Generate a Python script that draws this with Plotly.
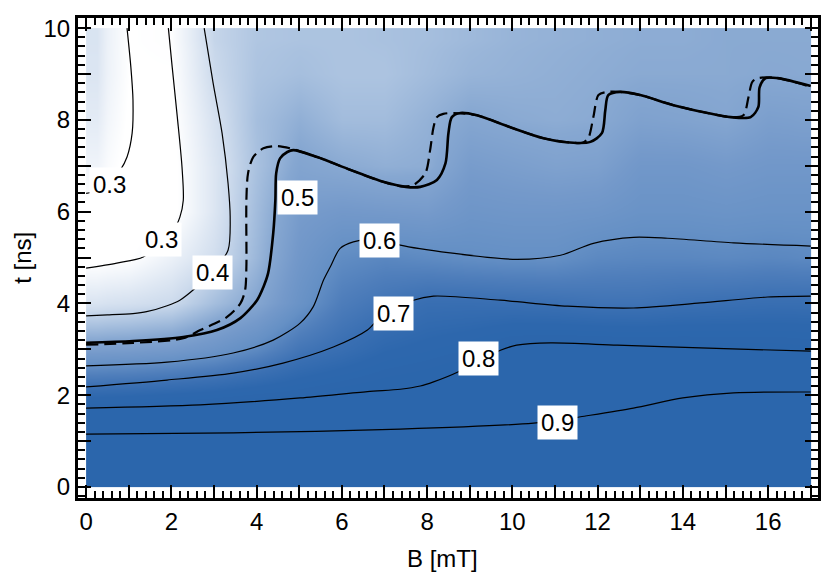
import plotly.graph_objects as go

FONT = "Liberation Sans, Arial, Helvetica, sans-serif"

# background field, sampled on a 1 mT x 1 ns grid (rows: t = 0..10)
B_GRID = list(range(18))
T_GRID = list(range(11))
Z_ROWS = [
    [1.0] * 18,
    [0.92, 0.92, 0.925, 0.925, 0.93, 0.93, 0.93, 0.935, 0.94, 0.94, 0.95, 0.96, 0.96, 0.965, 0.97, 0.97, 0.97, 0.97],
    [0.74, 0.745, 0.755, 0.765, 0.78, 0.79, 0.805, 0.815, 0.825, 0.85, 0.86, 0.87, 0.88, 0.89, 0.895, 0.9, 0.9, 0.9],
    [0.53, 0.535, 0.547, 0.574, 0.617, 0.68, 0.71, 0.745, 0.76, 0.775, 0.805, 0.81, 0.81, 0.805, 0.805, 0.8, 0.8, 0.795],
    [0.375, 0.385, 0.40, 0.456, 0.505, 0.585, 0.655, 0.685, 0.71, 0.71, 0.705, 0.70, 0.69, 0.69, 0.70, 0.705, 0.71, 0.71],
    [0.29, 0.298, 0.34, 0.39, 0.47, 0.56, 0.61, 0.625, 0.615, 0.605, 0.60, 0.60, 0.62, 0.625, 0.625, 0.62, 0.625, 0.62],
    [0.29, 0.28, 0.29, 0.37, 0.46, 0.54, 0.555, 0.55, 0.545, 0.57, 0.565, 0.565, 0.57, 0.585, 0.585, 0.58, 0.585, 0.585],
    [0.33, 0.29, 0.29, 0.37, 0.45, 0.51, 0.495, 0.485, 0.49, 0.54, 0.53, 0.52, 0.525, 0.56, 0.56, 0.55, 0.56, 0.56],
    [0.355, 0.295, 0.295, 0.38, 0.455, 0.485, 0.46, 0.46, 0.48, 0.505, 0.495, 0.49, 0.495, 0.52, 0.515, 0.505, 0.53, 0.525],
    [0.37, 0.30, 0.30, 0.40, 0.445, 0.455, 0.445, 0.445, 0.46, 0.475, 0.48, 0.485, 0.49, 0.495, 0.495, 0.495, 0.498, 0.497],
    [0.375, 0.30, 0.305, 0.41, 0.44, 0.445, 0.445, 0.45, 0.455, 0.465, 0.475, 0.48, 0.485, 0.49, 0.49, 0.495, 0.495, 0.495],
]

# contour lines
C03A_B = [0.0, 0.25, 0.55, 0.8, 0.96, 1.08, 1.10, 1.05, 0.96]
C03A_T = [6.40, 6.45, 6.62, 6.90, 7.19, 7.71, 8.43, 9.15, 10.0]

C03B_B = [0.0, 0.72, 1.34, 1.74, 2.05, 2.2, 2.28, 2.25, 2.14, 2.02, 1.93]
C03B_T = [4.77, 4.88, 5.01, 5.35, 5.6, 5.88, 6.25, 6.97, 8.06, 9.15, 10.0]

C04_B = [2.77, 2.98, 3.19, 3.33, 3.38, 3.33, 2.96, 2.56, 2.2, 1.9, 1.42, 1.1, 0.5, 0.0]
C04_T = [10.0, 8.8, 7.71, 6.62, 5.88, 5.16, 4.68, 4.33, 4.07, 3.95, 3.82, 3.78, 3.75, 3.73]

C05_B = [0.0, 1.1, 2.28, 3.07, 3.62, 4.01, 4.16, 4.27, 4.39, 4.44, 4.46, 4.55, 4.72, 4.86, 5.42,
         6.2, 6.97, 7.5, 7.84, 8.23, 8.43, 8.5, 8.58, 8.78, 9.17, 9.95, 10.73, 11.43, 11.83, 12.1,
         12.18, 12.25, 12.53, 13.0, 13.78, 14.58, 15.12, 15.59, 15.77, 15.8, 15.94, 16.22, 17.0]
C05_T = [3.14, 3.18, 3.27, 3.42, 3.68, 4.07, 4.36, 4.66, 5.53, 6.25, 6.84, 7.16, 7.3, 7.34, 7.19,
         6.91, 6.65, 6.54, 6.54, 6.69, 7.05, 7.71, 8.06, 8.15, 8.1, 7.84, 7.6, 7.5, 7.52, 7.71,
         8.21, 8.54, 8.61, 8.54, 8.32, 8.15, 8.06, 8.06, 8.28, 8.71, 8.91, 8.91, 8.74]

C05D_B = [0.0, 1.1, 2.28, 2.68, 3.3, 3.62, 3.73, 3.76, 3.76, 3.8, 3.92, 4.16, 4.48, 4.79, 5.42,
          6.2, 6.97, 7.4, 7.68, 7.96, 8.07, 8.15, 8.23, 8.38, 8.62, 9.17, 9.95, 10.73, 11.43, 11.64,
          11.78, 11.9, 12.02, 12.23, 12.53, 13.0, 13.78, 14.58, 15.12, 15.42, 15.54, 15.63, 15.77, 16.22, 17.0]
C05D_T = [3.1, 3.14, 3.24, 3.42, 3.7, 4.0, 4.29, 4.8, 6.25, 6.84, 7.19, 7.38, 7.43, 7.38, 7.19,
          6.91, 6.65, 6.55, 6.58, 6.84, 7.34, 7.84, 8.06, 8.13, 8.15, 8.1, 7.84, 7.6, 7.5, 7.5,
          7.6, 8.06, 8.54, 8.61, 8.61, 8.54, 8.32, 8.15, 8.06, 8.1, 8.5, 8.83, 8.91, 8.91, 8.72]

C06_B = [0.0, 1.9, 3.45, 4.39, 5.02, 5.33, 5.57, 5.73, 5.96, 6.27, 6.85, 7.37, 8.54, 10.1,
         11.13, 11.9, 12.84, 13.64, 15.19, 17.0]
C06_T = [2.64, 2.72, 2.92, 3.2, 3.57, 3.93, 4.51, 4.8, 5.2, 5.34, 5.42, 5.27, 5.1, 4.96,
         5.05, 5.31, 5.44, 5.42, 5.32, 5.25]

C07_B = [0.0, 1.9, 3.45, 4.62, 5.8, 6.6, 6.9, 7.21, 7.68, 8.15, 9.72, 11.29, 12.84, 14.41, 15.99, 17.0]
C07_T = [2.18, 2.33, 2.48, 2.7, 3.05, 3.42, 3.7, 3.85, 4.07, 4.16, 4.07, 3.94, 3.9, 4.01, 4.14, 4.16]

C08_B = [0.0, 2.68, 5.02, 6.6, 7.37, 7.84, 8.15, 8.71, 9.2, 9.72, 10.1, 10.9, 12.46, 14.41, 17.0]
C08_T = [1.72, 1.79, 1.94, 2.08, 2.13, 2.2, 2.29, 2.5, 2.75, 2.98, 3.09, 3.14, 3.09, 3.03, 2.96]

C09_B = [0.0, 3.45, 7.37, 10.5, 11.06, 11.6, 12.84, 14.0, 15.19, 17.0]
C09_T = [1.15, 1.18, 1.26, 1.39, 1.45, 1.53, 1.72, 1.94, 2.05, 2.07]

LABEL_TEXT = ["0.3", "0.3", "0.4", "0.5", "0.6", "0.7", "0.8", "0.9"]
LABEL_B = [0.56, 1.76, 2.96, 4.95, 6.88, 7.21, 9.2, 11.06]
LABEL_T = [6.60, 5.40, 4.68, 6.30, 5.38, 3.77, 2.81, 1.41]

COLORSCALE = [
    [0.0, "#FFFFFF"],
    [0.1, "#E6EDF6"],
    [0.2, "#CCDAEC"],
    [0.3, "#A9C1DF"],
    [0.4, "#86A7D1"],
    [0.5, "#7499CA"],
    [0.6, "#6590C5"],
    [0.7, "#4F7EBB"],
    [0.8, "#3B70B3"],
    [0.9, "#2D67AD"],
    [1.0, "#2B66AC"],
]


def edges(centres):
    mids = [(a + b) / 2 for a, b in zip(centres[:-1], centres[1:])]
    return [centres[0]] + mids + [centres[-1]]


fig = go.Figure()
fig.add_trace(go.Heatmap(
    x=edges(B_GRID), y=edges(T_GRID), z=Z_ROWS,
    zmin=0.3, zmax=0.8, colorscale=COLORSCALE, zsmooth="best",
    showscale=False, hoverinfo="skip",
))

thin = [(C03A_B, C03A_T), (C03B_B, C03B_T), (C04_B, C04_T), (C06_B, C06_T),
        (C07_B, C07_T), (C08_B, C08_T), (C09_B, C09_T)]
for bx, ty in thin:
    fig.add_trace(go.Scatter(x=bx, y=ty, mode="lines",
                             line=dict(color="black", width=1.2, shape="spline", smoothing=0.8),
                             showlegend=False, hoverinfo="skip"))
fig.add_trace(go.Scatter(x=C05D_B, y=C05D_T, mode="lines",
                         line=dict(color="black", width=2.2, dash="12px,6px", shape="spline", smoothing=0.8),
                         showlegend=False, hoverinfo="skip"))
fig.add_trace(go.Scatter(x=C05_B, y=C05_T, mode="lines",
                         line=dict(color="black", width=2.6, shape="spline", smoothing=0.8),
                         showlegend=False, hoverinfo="skip"))

for txt, bx, ty in zip(LABEL_TEXT, LABEL_B, LABEL_T):
    fig.add_annotation(x=bx, y=ty, text=txt, showarrow=False, bgcolor="white", borderpad=3,
                       font=dict(size=24, color="black", family=FONT))

# axis titles placed by hand so the frame keeps its size
fig.add_annotation(x=0.493, y=-0.127, xref="paper", yref="paper", text="B [mT]", showarrow=False,
                   xanchor="center", yanchor="middle",
                   font=dict(size=24, color="black", family=FONT))
fig.add_annotation(x=-0.076, y=0.5, xref="paper", yref="paper", text="t [ns]", showarrow=False,
                   xanchor="center", yanchor="middle", textangle=-90,
                   font=dict(size=24, color="black", family=FONT))

axis_common = dict(
    showline=True, linewidth=3, linecolor="black", mirror="ticks",
    ticks="inside", ticklen=13, tickwidth=2, tickcolor="black",
    showgrid=False, zeroline=False, automargin=False,
    tickfont=dict(size=24, color="black", family=FONT),
    minor=dict(dtick=0.2, tick0=0, ticks="inside", ticklen=7, tickwidth=1.5, tickcolor="black", showgrid=False),
)

fig.update_xaxes(
    range=[-0.19, 17.17],
    tickvals=list(range(18)),
    ticktext=[str(v) if v % 2 == 0 else "" for v in range(18)],
    ticklabelstandoff=0,
    **axis_common,
)
fig.update_yaxes(
    range=[-0.24, 10.22],
    tickvals=list(range(11)),
    ticktext=[str(v) if v % 2 == 0 else "" for v in range(11)],
    **axis_common,
)

# the page body adds 8 px on the left and top
fig.update_layout(
    width=814, height=568,
    margin=dict(l=70, r=4, t=10, b=78),
    paper_bgcolor="white", plot_bgcolor="white",
    font=dict(family=FONT, color="black"),
)

fig.write_html("out.html")
